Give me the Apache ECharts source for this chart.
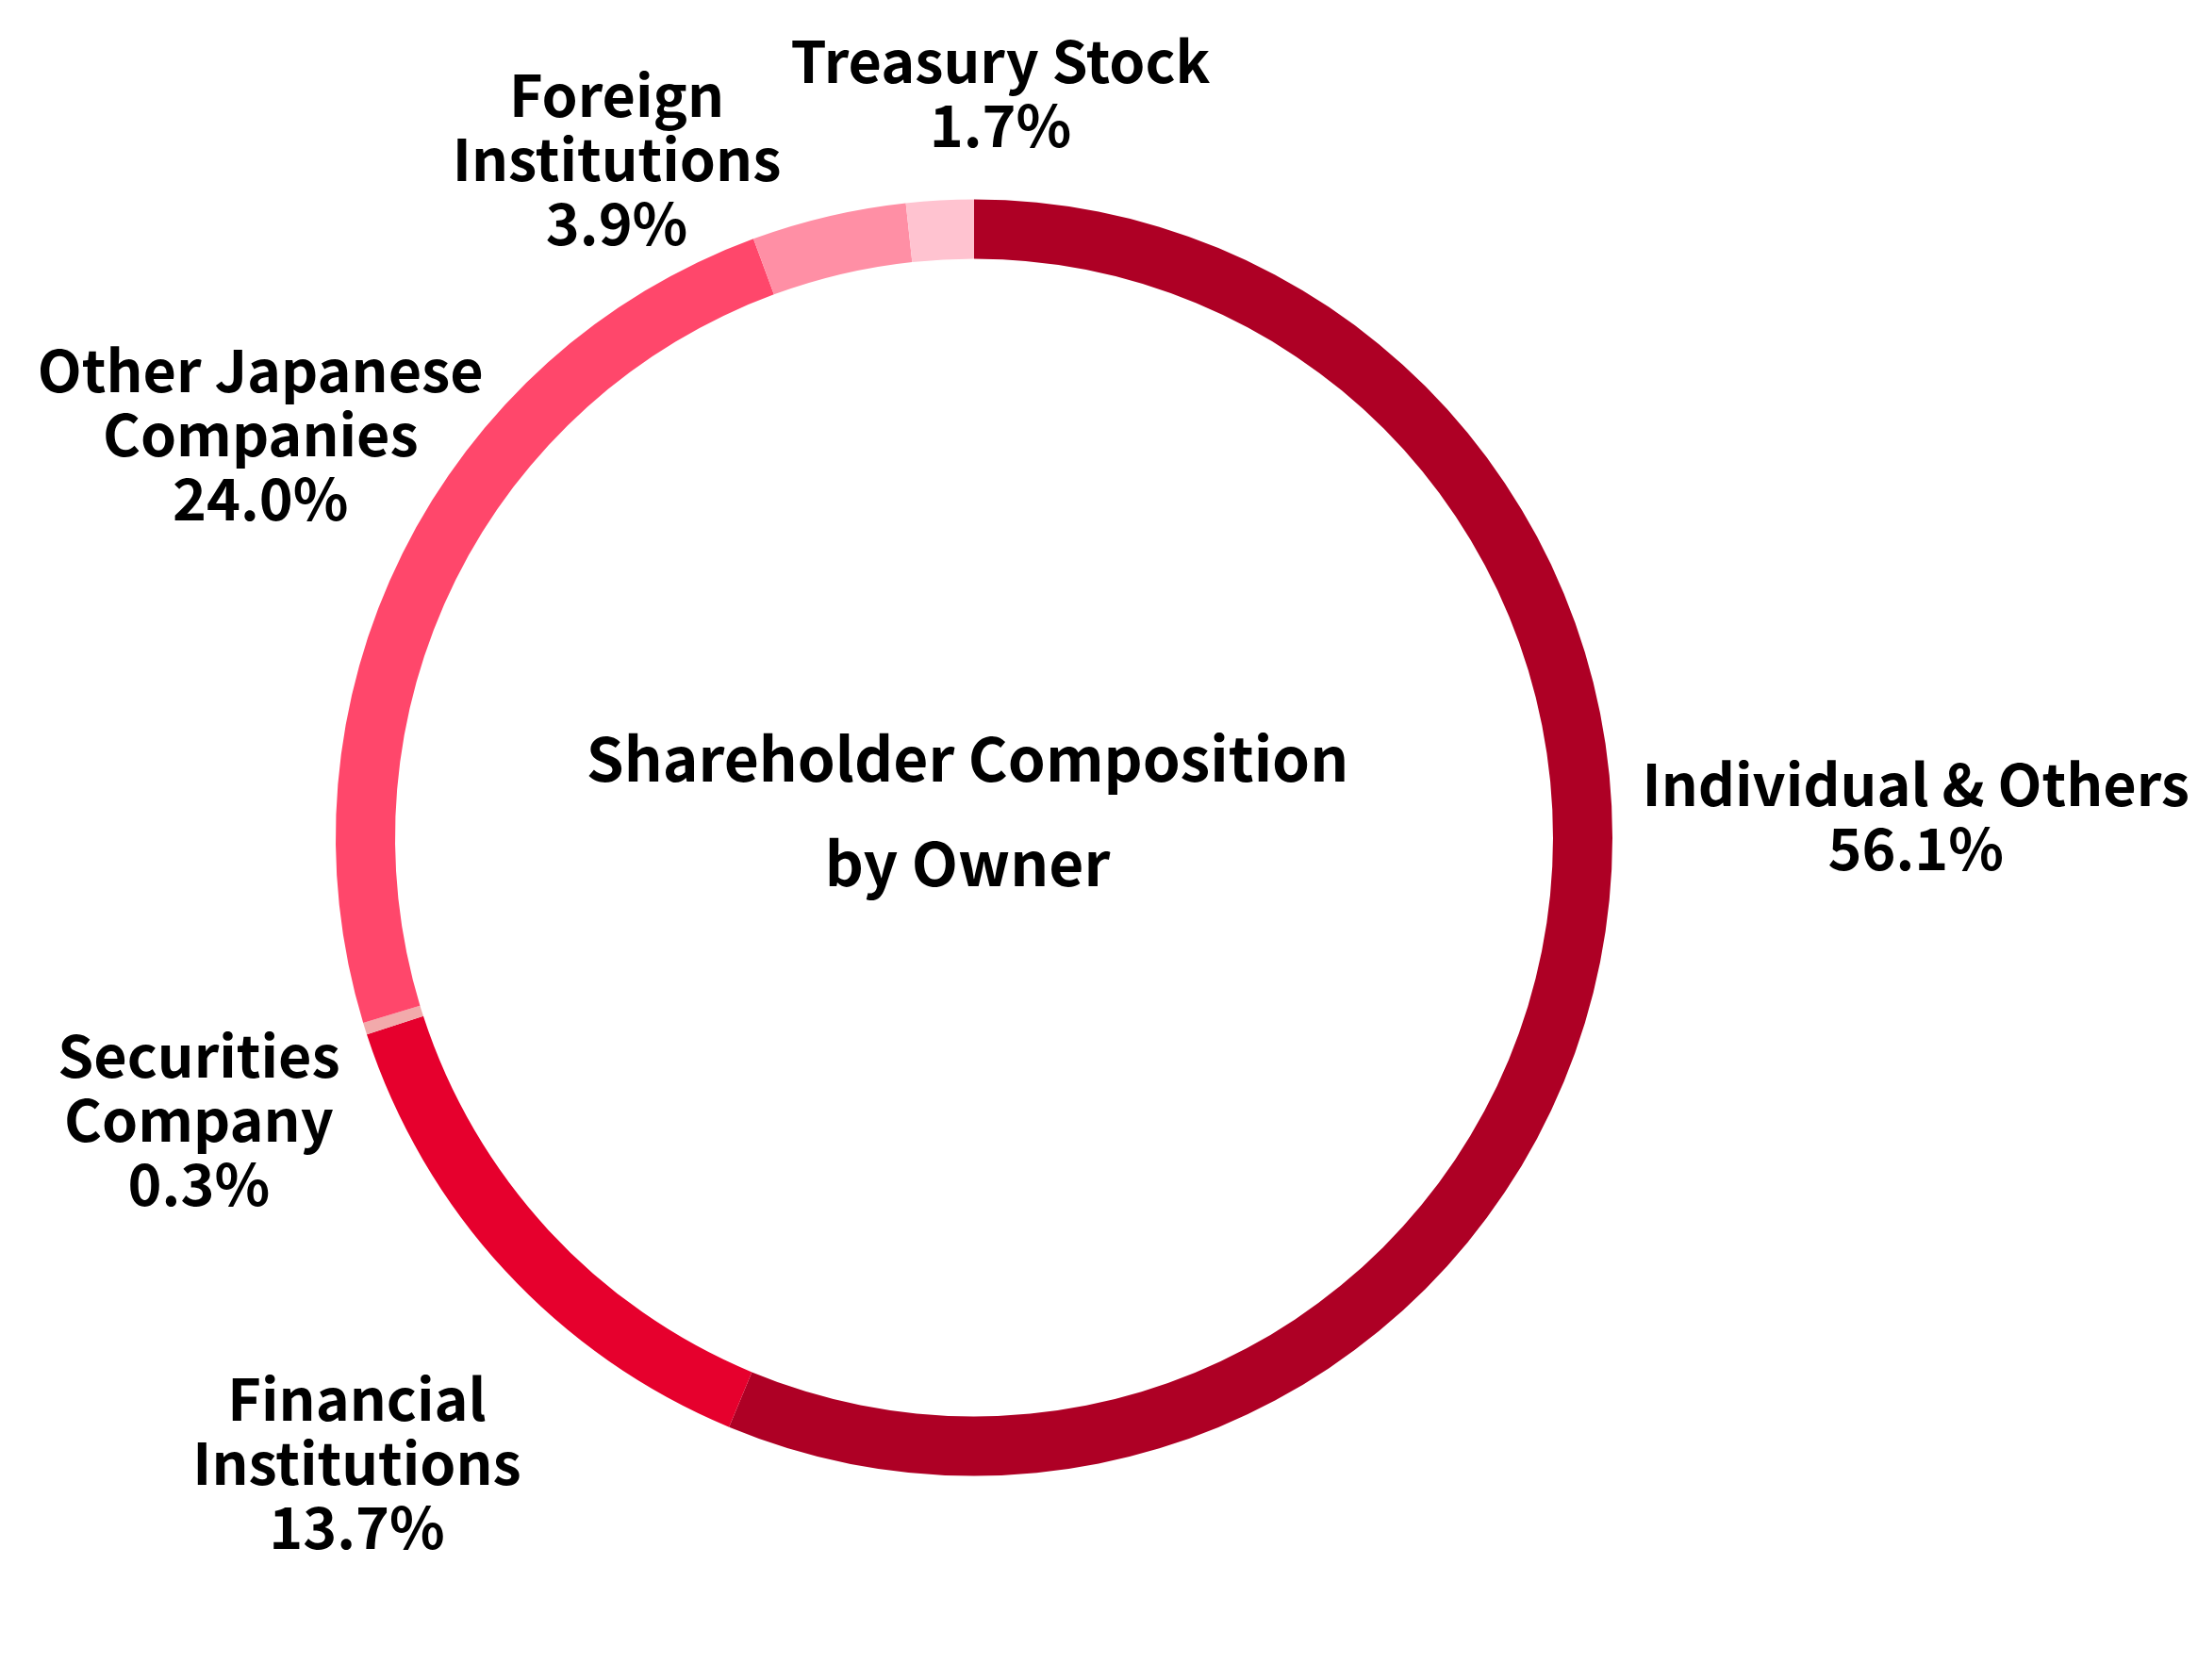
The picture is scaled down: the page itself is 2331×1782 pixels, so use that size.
<!DOCTYPE html>
<html>
<head>
<meta charset="utf-8">
<script src="https://cdn.jsdelivr.net/npm/echarts@6/dist/echarts.min.js"></script>
<style>
  html, body { margin: 0; padding: 0; background: #ffffff; }
  #chart { width: 2331px; height: 1782px; }
</style>
</head>
<body>
<div id="chart"></div>
<script>
// ---- data ----
const categories = [
  'Individual & Others',
  'Financial\nInstitutions',
  'Securities\nCompany',
  'Other Japanese\nCompanies',
  'Foreign\nInstitutions',
  'Treasury Stock'
];
const shares = [56.1, 13.7, 0.3, 24.0, 3.9, 1.7];
const sliceColors = ['#AE0025', '#E6002D', '#F2AAAB', '#FF476B', '#FF8FA5', '#FFC3D0'];
const centerTitle = 'Shareholder Composition\nby Owner';

// ---- label placement around the ring (styling) ----
const ringCenter = [1033, 888.5];
const labelDistance = [999, 932, 875, 869, 813, 790];
const labelTurn = [-12.6, -2.7, -2.6, 3.0, -14.6, 5.1];

const total = shares.reduce((a, b) => a + b, 0);
const midAngles = [];
let acc = 0;
shares.forEach(v => { midAngles.push((acc + v / 2) / total * 360); acc += v; });

const chart = echarts.init(document.getElementById('chart'));
const fontFamily = '"Noto Sans CJK JP", "Noto Sans", sans-serif';

chart.setOption({
  animation: false,
  backgroundColor: '#ffffff',
  title: {
    text: centerTitle,
    left: 1021,
    top: 744,
    textAlign: 'center',
    textStyle: {
      fontFamily: fontFamily,
      fontWeight: 'bold',
      fontSize: 64,
      lineHeight: 111,
      color: '#000000'
    }
  },
  series: [{
    type: 'pie',
    center: ringCenter,
    radius: [614, 677],
    startAngle: 90,
    clockwise: true,
    silent: true,
    avoidLabelOverlap: false,
    itemStyle: { borderWidth: 0 },
    label: {
      show: true,
      position: 'inside',
      fontFamily: fontFamily,
      fontWeight: 'bold',
      fontSize: 61,
      lineHeight: 68,
      color: '#000000',
      align: 'center',
      formatter: p => p.name + '\n' + p.value.toFixed(1) + '%'
    },
    labelLine: { show: false },
    labelLayout: params => {
      const i = params.dataIndex;
      const a = (midAngles[i] + labelTurn[i]) * Math.PI / 180;
      return {
        x: ringCenter[0] + labelDistance[i] * Math.sin(a),
        y: ringCenter[1] - labelDistance[i] * Math.cos(a),
        align: 'center',
        verticalAlign: 'middle'
      };
    },
    data: categories.map((name, i) => ({
      name: name,
      value: shares[i],
      itemStyle: { color: sliceColors[i] }
    }))
  }]
});
</script>
</body>
</html>
